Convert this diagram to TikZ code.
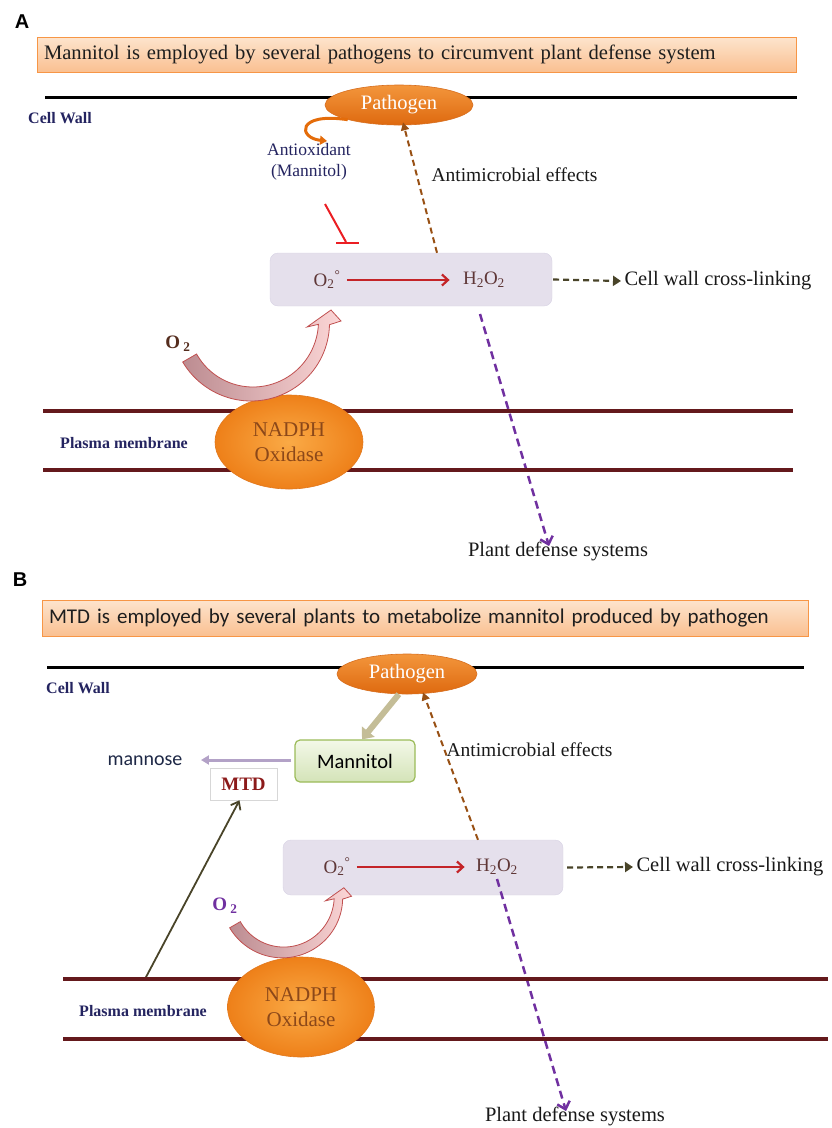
\documentclass[tikz,border=0pt]{standalone}
\usepackage{fontspec}
\setmainfont{Liberation Serif}
\newfontfamily\calibrifont{Carlito}
\newfontfamily\arialfont{Liberation Sans}
\usetikzlibrary{arrows.meta,shapes.geometric}
\definecolor{navytxt}{RGB}{36,36,96}
\definecolor{titletxt}{RGB}{30,30,30}
\definecolor{titleedge}{RGB}{247,150,70}
\definecolor{titletop}{RGB}{253,228,205}
\definecolor{titlebot}{RGB}{250,192,145}
\definecolor{pathtop}{RGB}{243,150,60}
\definecolor{pathbot}{RGB}{222,105,15}
\definecolor{pathedge}{RGB}{215,110,30}
\definecolor{nadin}{RGB}{250,170,70}
\definecolor{nadout}{RGB}{238,128,25}
\definecolor{nadedge}{RGB}{225,120,30}
\definecolor{nadtxt}{RGB}{140,72,25}
\definecolor{rosfill}{RGB}{229,224,236}
\definecolor{rosedge}{RGB}{215,210,228}
\definecolor{chemtxt}{RGB}{95,55,55}
\definecolor{redarr}{RGB}{196,36,40}
\definecolor{inhred}{RGB}{235,30,35}
\definecolor{brownarr}{RGB}{152,80,20}
\definecolor{olivearr}{RGB}{73,68,41}
\definecolor{purplearr}{RGB}{112,48,160}
\definecolor{membr}{RGB}{100,25,28}
\definecolor{swirlL}{RGB}{188,140,145}
\definecolor{swirlR}{RGB}{252,214,214}
\definecolor{swirledge}{RGB}{192,80,80}
\definecolor{orangearc}{RGB}{228,108,10}
\definecolor{mannedge}{RGB}{155,187,89}
\definecolor{manntop}{RGB}{243,248,232}
\definecolor{mannbot}{RGB}{212,227,184}
\definecolor{tanarr}{RGB}{196,189,151}
\definecolor{lavarr}{RGB}{179,162,199}
\definecolor{mtdtxt}{RGB}{140,26,26}
\definecolor{mtdedge}{RGB}{215,215,215}
\definecolor{o2brown}{RGB}{85,45,30}
\definecolor{mantxt}{RGB}{30,40,70}
\definecolor{blacktxt}{RGB}{25,25,25}

\newcommand{\swirlarrow}{%
\path[draw=swirledge, line width=0.8pt, left color=swirlL, right color=swirlR]
 plot[domain=150:2, samples=50, variable=\t] ({(77.5+2.5*\t/150)*cos(\t)}, {(77.5+2.5*\t/150)*sin(\t)})
 -- (89,-1) -- (79,-12) -- (55,5)
 -- plot[domain=2:150, samples=50, variable=\t] ({(66.5-2.5*\t/150)*cos(\t)}, {(66.5-2.5*\t/150)*sin(\t)})
 -- cycle;}

\begin{document}
\begin{tikzpicture}[x=1pt,y=-1pt,
  panellab/.style={font=\arialfont\bfseries\fontsize{20}{24}\selectfont},
  titlebox/.style={draw=titleedge, line width=1pt, top color=titletop, bottom color=titlebot, inner sep=0pt, align=left, text=titletxt},
  cellwall/.style={line width=3pt, black},
  membrane/.style={line width=3.2pt, membr},
  pathogen/.style={ellipse, inner sep=0pt, text=white, font=\fontsize{20.5}{24}\selectfont, top color=pathtop, bottom color=pathbot, draw=pathedge, line width=0.6pt},
  nadph/.style={ellipse, inner sep=0pt, inner color=nadin, outer color=nadout, draw=nadedge, line width=0.6pt, text=nadtxt, align=center, font=\fontsize{21}{25}\selectfont},
  walllab/.style={text=navytxt, font=\bfseries\fontsize{16}{19}\selectfont},
  rosbox/.style={rectangle, rounded corners=8pt, fill=rosfill, draw=rosedge, line width=0.4pt, inner sep=0pt},
  chem/.style={text=chemtxt, font=\fontsize{19}{22}\selectfont},
  redarrow/.style={draw=redarr, line width=2.2pt, -{Straight Barb[length=6pt,width=11pt]}},
  antimic/.style={draw=brownarr, line width=2pt, dash pattern=on 6pt off 4pt, -{Triangle[length=8pt,width=8pt]}},
  crossarrow/.style={draw=olivearr, line width=2.2pt, dash pattern=on 6pt off 4pt, -{Triangle[length=8pt,width=10pt]}},
  defarrow/.style={draw=purplearr, line width=2.5pt, dash pattern=on 8pt off 5pt, -{Straight Barb[length=7pt,width=13pt]}},
  bigtxt/.style={text=blacktxt, font=\fontsize{20.5}{24}\selectfont},
  midtxt/.style={text=blacktxt, font=\fontsize{19.5}{23}\selectfont},
  o2lab/.style={font=\bfseries\fontsize{19}{22}\selectfont}
]
\useasboundingbox (0,0) rectangle (831,1128);

%% ================= PANEL A =================
\node[panellab] (labA) at (22,22) {A};
\node[titlebox, minimum width=759pt, minimum height=35pt, text width=745pt, font=\fontsize{20.6}{24}\selectfont] (tA) at (416.5,54.5)
  {Mannitol is employed by several pathogens to circumvent plant defense system};

\draw[cellwall] (45,97) -- (797,97);
\node[pathogen, minimum width=148pt, minimum height=40pt] (pA) at (399,105) {Pathogen};
\node[walllab] (cwA) at (60,118) {Cell Wall};

\draw[orangearc, line width=3pt, -{Triangle[length=7pt,width=9pt]}] (pA.196) .. controls (296,112) and (298,138) .. (327,141);

\node[text=navytxt, align=center, font=\fontsize{17.5}{21}\selectfont] (antiA) at (309,162) {Antioxidant\\(Mannitol)};

\coordinate (inhA) at (325,204);
\coordinate (inhAend) at (346,242);
\draw[inhred, line width=2pt] (inhA) -- (inhAend);
\draw[inhred, line width=2.2pt] (336,243) -- (359,243);

\node[rosbox, minimum width=282pt, minimum height=53pt] (rosA) at (411,279.5) {};
\node[chem] (o2A) at (327,280) {O\textsubscript{2}\textsuperscript{°}};
\node[chem] (hA) at (484,280) {H\textsubscript{2}O\textsubscript{2}};
\draw[redarrow] ([xshift=3pt]o2A.east) -- ([xshift=-10pt]hA.west);

\draw[antimic] ([xshift=26pt]rosA.north) -- ([shift={(4pt,3pt)}]pA.south);
\node[midtxt, anchor=west] (amA) at (428,175) {Antimicrobial effects};

\node[bigtxt, anchor=west] (cwcA) at (621,281) {Cell wall cross-linking};
\draw[crossarrow] ([xshift=1pt]rosA.east) -- (cwcA.west);

\node[bigtxt] (pdA) at (558,551) {Plant defense systems};
\coordinate (pstA) at (480,314);
\draw[defarrow] (pstA) -- ([shift={(-9pt,-8pt)}]pdA.north);

\node[o2lab, text=o2brown] (o2labA) at (178,344) {O\,\textsubscript{2}};

\draw[membrane] (43,411) -- (793,411);
\draw[membrane] (43,470) -- (793,470);
\node[walllab] (pmA) at (124,443) {Plasma membrane};
\node[nadph, minimum width=148pt, minimum height=94pt] (nA) at (289,442) {NADPH\\Oxidase};

\begin{scope}[shift={(252,322)}]
\swirlarrow
\end{scope}

%% ================= PANEL B =================
\node[panellab] (labB) at (20,580) {B};
\node[titlebox, minimum width=766pt, minimum height=36pt, text width=752pt, font=\calibrifont\fontsize{21}{25}\selectfont] (tB) at (425,618)
  {MTD is employed by several plants to metabolize mannitol produced by pathogen};

\draw[cellwall] (47,667) -- (804,667);
\node[pathogen, minimum width=140pt, minimum height=40pt] (pB) at (407,674) {Pathogen};
\node[walllab] (cwB) at (78,688) {Cell Wall};

\node[rectangle, rounded corners=5pt, top color=manntop, bottom color=mannbot, draw=mannedge, line width=1.2pt,
  minimum width=120pt, minimum height=42pt, inner sep=0pt, font=\calibrifont\fontsize{20.5}{24}\selectfont] (mann) at (355,761) {Mannitol};
\draw[tanarr, line width=6pt, -{Triangle[length=10pt,width=16pt]}] (pB.248) -- ([xshift=7pt]mann.north);

\node[text=mantxt, font=\calibrifont\fontsize{20}{24}\selectfont] (mannose) at (145,761) {mannose};
\draw[lavarr, line width=3pt, -{Triangle[length=8pt,width=9pt]}] ([shift={(-3pt,1pt)}]mann.west) -- ([shift={(15pt,1pt)}]mannose.east);

\node[draw=mtdedge, line width=0.5pt, minimum width=67pt, minimum height=32pt, inner sep=0pt, text=mtdtxt,
  font=\bfseries\fontsize{19}{22}\selectfont] (mtd) at (243.5,784) {MTD};
\coordinate (mtdst) at (145,979);
\draw[olivearr, line width=1.8pt, -{Straight Barb[length=7pt,width=11pt]}] (mtdst) -- ([xshift=-4pt]mtd.south);

\node[rosbox, minimum width=280pt, minimum height=55pt] (rosB) at (423,867.5) {};
\node[chem] (o2B) at (337,867) {O\textsubscript{2}\textsuperscript{°}};
\node[chem] (hB) at (497,867) {H\textsubscript{2}O\textsubscript{2}};
\draw[redarrow] ([xshift=3pt]o2B.east) -- ([xshift=-8pt]hB.west);

\draw[antimic] ([xshift=55pt]rosB.north) -- ([shift={(16pt,2pt)}]pB.south);
\node[midtxt, anchor=west] (amB) at (443,750) {Antimicrobial effects};

\node[bigtxt, anchor=west] (cwcB) at (633,867) {Cell wall cross-linking};
\draw[crossarrow] ([xshift=4pt]rosB.east) -- (cwcB.west);

\node[bigtxt] (pdB) at (575,1116) {Plant defense systems};
\coordinate (pstB) at (497,879);
\draw[defarrow] (pstB) -- ([shift={(-9pt,-8pt)}]pdB.north);

\node[o2lab, text=purplearr] (o2labB) at (225,906) {O\,\textsubscript{2}};

\draw[membrane] (63,979) -- (828,979);
\draw[membrane] (63,1039) -- (828,1039);
\node[walllab] (pmB) at (143,1011) {Plasma membrane};
\node[nadph, minimum width=147pt, minimum height=100pt] (nB) at (301,1007) {NADPH\\Oxidase};

\begin{scope}[shift={(283,897)}, scale=0.77]
\swirlarrow
\end{scope}

\end{tikzpicture}
\end{document}
